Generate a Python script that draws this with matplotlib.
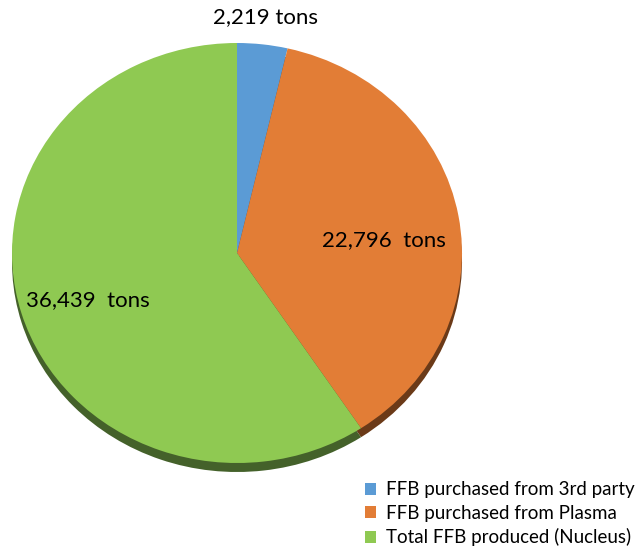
import matplotlib.pyplot as plt
import numpy as np

plt.rcParams['font.family'] = ['Lato', 'DejaVu Sans']

names = ['FFB purchased from 3rd party', 'FFB purchased from Plasma', 'Total FFB produced (Nucleus)']
tons = [2219, 22796, 36439]
colors = ['#5B9BD5', '#E27D36', '#8FC952']
shadow = ['#2E5478', '#6B3A18', '#44612A']
label_dist = [1.13, 0.655, 0.70]
label_turn = [0, -5, 2]

W, H = 638, 551
sy = 210 / 225  # vertical squash of the pie (tilted look)

fig = plt.figure(figsize=(W / 100, H / 100), dpi=100)
ax = fig.add_axes([0, 0, 1, 1])

cx, cy = 237, 253
R = 225

def yd(py):
    return (H - py) / sy

# side / depth of the pie
ax.pie(tons, colors=shadow, startangle=90, counterclock=False,
       center=(cx, yd(cy + 9)), radius=R, frame=True)
wedges, _ = ax.pie(tons, colors=colors, startangle=90, counterclock=False,
                   center=(cx, yd(cy)), radius=R, frame=True)
ax.set_xlim(0, W)
ax.set_ylim(0, H / sy)
ax.set_aspect('auto')
ax.axis('off')

for w, v, d, t in zip(wedges, tons, label_dist, label_turn):
    a = np.deg2rad((w.theta1 + w.theta2) / 2 + t)
    sep = ' ' if v < 10000 else '  '
    ax.text(cx + d * R * np.cos(a), yd(cy) + d * R * np.sin(a), f'{v:,}{sep}tons',
            ha='center', va='center', fontsize=16, color='black')

fig.legend(wedges, names, loc='lower right', bbox_to_anchor=(1.012, -0.012),
           frameon=False, fontsize=13.5, handlelength=0.6, handleheight=0.6,
           handletextpad=0.5, labelspacing=0.35, borderaxespad=0.2)

fig.savefig('out.png', dpi=100)
